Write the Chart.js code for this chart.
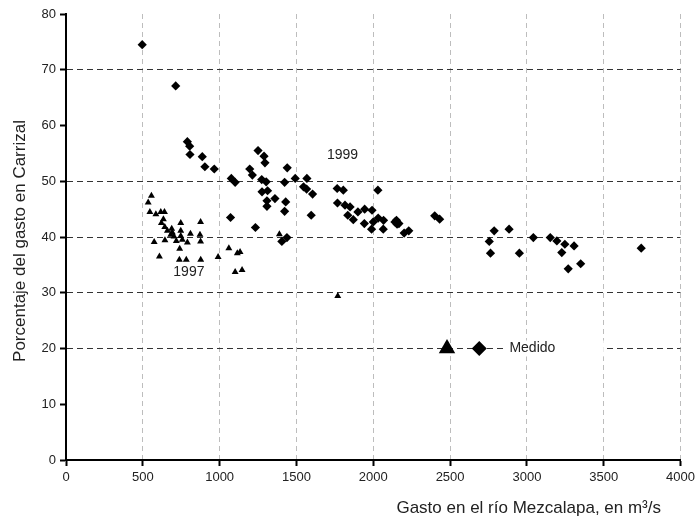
<!DOCTYPE html>
<html>
<head>
<meta charset="utf-8">
<script src="https://cdn.jsdelivr.net/npm/chart.js@4/dist/chart.umd.min.js"></script>
<style>
  body { margin: 0; background: #fff; }
  #grafica { display: block; }
</style>
</head>
<body>
<canvas id="grafica" width="699" height="524"></canvas>
<script>
// gasto en el rio (m3/s) contra porcentaje que pasa por Carrizal
var gasto1999 = [496, 714, 790, 805, 807, 887, 904, 965, 1076, 1101, 1196, 1213, 1233, 1071, 1250, 1289, 1295, 1274, 1303,
    1276, 1312, 1360, 1308, 1308, 1423, 1492, 1568, 1546, 1566, 1605, 1440, 1430, 1423, 1596, 1438, 1405, 1765, 1805, 2030,
    1767, 1816, 1849, 1834, 1870, 1900, 1944, 1992, 1942, 2000, 1989, 2032, 2065, 2067, 2151, 2167, 2141, 2155, 2201, 2231,
    2400, 2432, 2787, 2884, 2755, 2763, 2951, 3042, 3152, 3195, 3247, 3307, 3227, 3269, 3350, 3744];
var porc1999 = [74.5, 67.1, 57.1, 56.3, 54.8, 54.4, 52.6, 52.2, 50.5, 49.8, 52.2, 51.1, 41.7, 43.5, 55.5, 54.5, 53.3, 50.3, 49.9,
    48.1, 48.3, 46.9, 46.5, 45.5, 49.8, 50.5, 50.5, 49.0, 48.6, 47.7, 52.4, 46.3, 44.6, 43.9, 39.9, 39.2, 48.7, 48.4, 48.4,
    46.1, 45.7, 45.4, 43.9, 43.1, 44.5, 45.0, 44.8, 42.4, 42.7, 41.4, 43.4, 41.4, 43.0, 43.0, 42.4, 42.7, 42.3, 40.7, 41.1,
    43.8, 43.2, 41.1, 41.4, 39.2, 37.1, 37.1, 39.9, 39.9, 39.3, 38.7, 38.4, 37.2, 34.3, 35.2, 38.0];

var gasto1997 = [556, 535, 546, 585, 617, 641, 621, 634, 643, 660, 688, 682, 703, 692, 747, 747, 747, 718, 757, 790, 810,
    740, 876, 872, 876, 574, 644, 608, 738, 783, 877, 990, 1060, 1115, 1133, 1101, 1146, 1389, 1769];
var porc1997 = [47.4, 46.2, 44.5, 44.1, 44.5, 44.5, 42.5, 43.2, 41.8, 41.1, 41.5, 40.4, 40.1, 40.8, 42.5, 41.1, 40.2, 39.3,
    39.5, 39.0, 40.6, 37.9, 42.7, 40.4, 39.2, 39.1, 39.4, 36.5, 35.9, 35.9, 35.9, 36.4, 38.0, 37.1, 37.3, 33.7, 34.1, 40.5, 29.4];

// valores medidos
var medidoTriangulo = [2480, 20];
var medidoRombo = [2690, 20];

var ticksX = [0, 500, 1000, 1500, 2000, 2500, 3000, 3500, 4000];
var ticksY = [0, 10, 20, 30, 40, 50, 60, 70, 80];
var lineasY = [20, 30, 40, 50, 70];

var etiquetas = [
    { texto: '1999', x: 1800, y: 54.7 },
    { texto: '1997', x: 800, y: 33.7 }
];
var etiquetaMedido = { texto: 'Medido', x: 2886, y: 20 };

var tituloX = 'Gasto en el río Mezcalapa, en m³/s';
var tituloY = 'Porcentaje del gasto en Carrizal';

function puntos(xs, ys) {
    var res = [];
    for (var i = 0; i < xs.length; i++) {
        res.push({ x: xs[i], y: ys[i] });
    }
    return res;
}

var fuente = 'Liberation Sans, Arial, sans-serif';

// textos sueltos dentro de la grafica y titulos de los ejes
const textos = {
    id: 'textos',
    beforeDatasetsDraw(chart) {
        const { ctx, scales: { x, y } } = chart;
        // recuadro blanco que corta la linea del 20
        ctx.save();
        ctx.fillStyle = '#fff';
        ctx.fillRect(x.getPixelForValue(2860), y.getPixelForValue(etiquetaMedido.y) - 8, x.getPixelForValue(3500) - x.getPixelForValue(2860), 16);
        ctx.restore();
    },
    afterDraw(chart) {
        const { ctx, scales: { x, y } } = chart;
        ctx.save();
        ctx.fillStyle = '#222';
        ctx.font = '14px ' + fuente;
        ctx.textBaseline = 'middle';
        ctx.textAlign = 'center';
        for (var i = 0; i < etiquetas.length; i++) {
            ctx.fillText(etiquetas[i].texto, x.getPixelForValue(etiquetas[i].x), y.getPixelForValue(etiquetas[i].y));
        }
        ctx.textAlign = 'left';
        ctx.fillText(etiquetaMedido.texto, x.getPixelForValue(etiquetaMedido.x), y.getPixelForValue(etiquetaMedido.y));

        ctx.font = '17px ' + fuente;
        ctx.textAlign = 'right';
        ctx.fillText(tituloX, 661, 508);
        ctx.translate(20, 241);
        ctx.rotate(-Math.PI / 2);
        ctx.textAlign = 'center';
        ctx.fillText(tituloY, 0, 0);
        ctx.restore();
    }
};

new Chart(document.getElementById('grafica'), {
    type: 'scatter',
    data: {
        datasets: [{
            label: '1999',
            data: puntos(gasto1999, porc1999),
            pointStyle: 'rectRot',
            pointRadius: 4.6,
            backgroundColor: '#000',
            borderWidth: 0
        }, {
            label: '1997',
            data: puntos(gasto1997, porc1997),
            pointStyle: 'triangle',
            pointRadius: 4,
            backgroundColor: '#000',
            borderWidth: 0
        }, {
            label: 'Medido 1997',
            data: [{ x: medidoTriangulo[0], y: medidoTriangulo[1] }],
            pointStyle: 'triangle',
            pointRadius: 9.5,
            backgroundColor: '#000',
            borderWidth: 0
        }, {
            label: 'Medido 1999',
            data: [{ x: medidoRombo[0], y: medidoRombo[1] }],
            pointStyle: 'rectRot',
            pointRadius: 7.5,
            backgroundColor: '#000',
            borderWidth: 0
        }]
    },
    options: {
        responsive: false,
        animation: false,
        layout: { padding: { left: 0, top: 14, right: 14, bottom: 0 } },
        plugins: {
            legend: { display: false },
            tooltip: { enabled: false }
        },
        scales: {
            x: {
                type: 'linear',
                min: 0,
                max: 4000,
                afterFit: (scale) => { scale.height = 64; },
                afterBuildTicks: (scale) => { scale.ticks = ticksX.map(v => ({ value: v })); },
                ticks: {
                    color: '#222',
                    font: { family: fuente, size: 13 },
                    padding: 4,
                    maxRotation: 0,
                    callback: (v) => String(v)
                },
                grid: {
                    color: (c) => c.tick && c.tick.value === 0 ? 'rgba(0,0,0,0)' : '#bdbdbd',
                    tickColor: '#000',
                    tickLength: 6,
                    tickWidth: 2
                },
                border: { color: '#000', width: 2, dash: [5, 4] }
            },
            y: {
                type: 'linear',
                min: 0,
                max: 80,
                afterFit: (scale) => { scale.width = 66; },
                afterBuildTicks: (scale) => { scale.ticks = ticksY.map(v => ({ value: v })); },
                ticks: { color: '#222', font: { family: fuente, size: 13 }, padding: 4, callback: (v) => String(v) },
                grid: {
                    color: (c) => c.tick && lineasY.indexOf(c.tick.value) >= 0 ? '#333' : 'rgba(0,0,0,0)',
                    tickColor: '#000',
                    tickLength: 6,
                    tickWidth: 2
                },
                border: { color: '#000', width: 2, dash: [6, 4] }
            }
        }
    },
    plugins: [textos]
});
</script>
</body>
</html>
